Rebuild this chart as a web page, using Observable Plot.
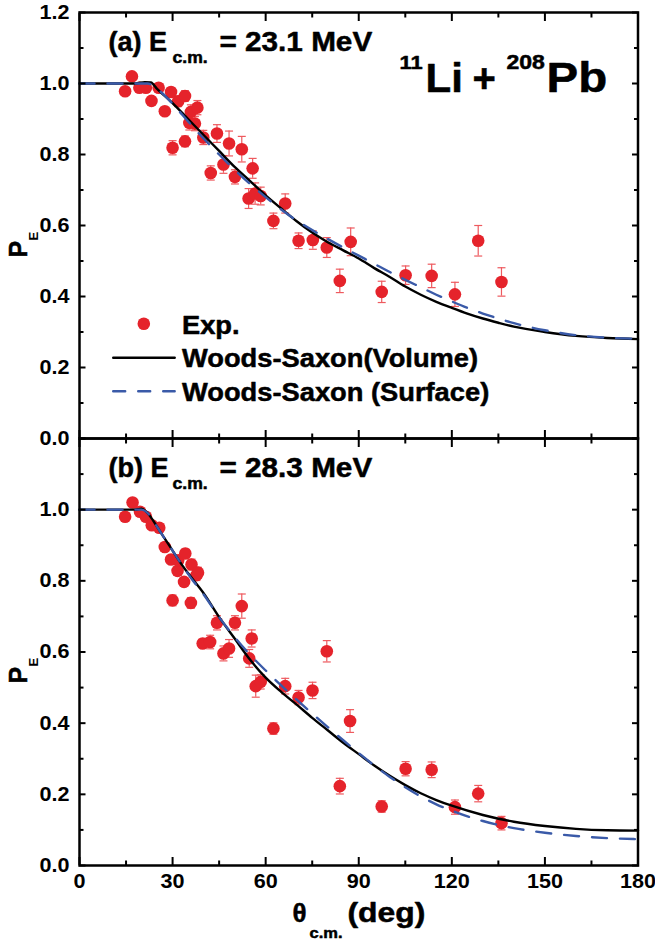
<!DOCTYPE html>
<html><head><meta charset="utf-8">
<script src="https://cdn.jsdelivr.net/npm/d3@7"></script>
<script src="https://cdn.jsdelivr.net/npm/@observablehq/plot@0.6"></script>
<style>
html,body{margin:0;padding:0;background:#fff;}
#chart{width:655px;height:941px;}
#chart svg{display:block;overflow:visible;background:transparent;}
</style></head><body><div id="chart"></div>
<script>
// ---------- data ----------
const xMajorTicks = [0, 30, 60, 90, 120, 150, 180];
const xMinorTicks = [15, 45, 75, 105, 135, 165];
const yMajorTicks = [0, 0.2, 0.4, 0.6, 0.8, 1.0, 1.2];
const yMinorTicks = [0.1, 0.3, 0.5, 0.7, 0.9, 1.1];
const yLabelsTop = [0, 0.2, 0.4, 0.6, 0.8, 1.0, 1.2];
const yLabelsBottom = [0, 0.2, 0.4, 0.6, 0.8, 1.0];

// (a) E = 23.1 MeV experiment
const topTheta = [14.7,16.9,19.3,21.4,23.2,25.5,27.5,29.5,30.0,31.8,34.0,34.0,35.4,35.9,37.2,38.0,39.9,42.3,44.3,46.4,48.2,50.1,52.3,54.5,55.8,56.6,58.4,62.5,66.3,70.6,75.2,79.7,83.9,87.4,97.4,105.1,113.5,121.0,128.5,136.0];
const topPE = [0.978,1.020,0.988,0.988,0.951,0.988,0.922,0.976,0.819,0.950,0.965,0.837,0.889,0.920,0.887,0.932,0.848,0.748,0.859,0.772,0.831,0.737,0.815,0.676,0.761,0.690,0.683,0.613,0.662,0.557,0.559,0.538,0.444,0.554,0.413,0.460,0.458,0.406,0.557,0.441];
const topErr = [0.008,0.008,0.008,0.008,0.01,0.01,0.01,0.012,0.02,0.015,0.015,0.015,0.02,0.02,0.02,0.02,0.02,0.02,0.025,0.025,0.035,0.02,0.036,0.028,0.028,0.03,0.025,0.022,0.027,0.022,0.026,0.028,0.033,0.039,0.030,0.026,0.033,0.034,0.043,0.040];
// (a) curves
const topVolTheta = [0,10,18,21,23,25,30,35,40,45,50,55,60,65,70,75,80,85,90,95,100,105,110,115,120,125,130,135,140,150,160,170,180];
const topVolPE = [1,1,1,1.004,1.003,0.985,0.945,0.90,0.855,0.81,0.765,0.725,0.685,0.648,0.612,0.58,0.553,0.53,0.507,0.48,0.455,0.428,0.405,0.385,0.368,0.352,0.338,0.326,0.315,0.300,0.289,0.283,0.28];
const topSurfTheta = [0,10,20,22,25,30,35,40,45,50,55,60,65,70,75,80,85,90,95,100,105,110,115,120,125,130,135,140,145,150,160,170,180];
const topSurfPE = [1,1,1,1,0.985,0.943,0.893,0.845,0.80,0.757,0.717,0.680,0.645,0.614,0.587,0.562,0.538,0.515,0.492,0.469,0.447,0.426,0.405,0.386,0.368,0.352,0.338,0.325,0.314,0.305,0.291,0.284,0.281];

// (b) E = 28.3 MeV experiment
const botTheta = [14.7,17.1,19.5,21.4,23.3,25.7,27.5,29.5,30.0,31.6,31.8,33.7,34.1,35.9,36.1,37.7,38.2,39.7,42.1,44.3,46.4,48.2,50.1,52.3,54.7,55.5,56.8,58.4,62.5,66.3,70.6,75.1,79.7,83.9,87.2,97.4,105.1,113.5,121.0,128.5,136.0];
const botPE = [0.980,1.020,0.994,0.980,0.956,0.949,0.895,0.860,0.745,0.828,0.858,0.797,0.877,0.738,0.846,0.816,0.823,0.624,0.628,0.682,0.596,0.610,0.682,0.729,0.582,0.638,0.504,0.516,0.385,0.504,0.472,0.492,0.602,0.223,0.406,0.166,0.272,0.269,0.164,0.202,0.119];
const botErr = [0.008,0.008,0.008,0.008,0.008,0.008,0.01,0.01,0.015,0.012,0.012,0.012,0.012,0.015,0.015,0.015,0.015,0.012,0.019,0.02,0.021,0.025,0.02,0.034,0.025,0.024,0.031,0.02,0.016,0.022,0.02,0.023,0.03,0.022,0.032,0.016,0.02,0.022,0.02,0.023,0.019];
// (b) curves
const botVolTheta = [0,10,18,20,22,25,27,30,33,36,40,45,50,55,60,65,70,75,80,85,90,95,100,105,110,115,120,130,140,150,160,170,180];
const botVolPE = [1,1,1,1.003,0.99,0.952,0.925,0.885,0.845,0.81,0.765,0.698,0.638,0.578,0.528,0.488,0.452,0.415,0.38,0.345,0.313,0.281,0.252,0.226,0.203,0.184,0.168,0.142,0.123,0.111,0.103,0.099,0.098];
const botSurfTheta = [0,10,20,22,25,27,30,33,36,40,45,50,55,60,65,70,75,80,85,90,95,100,105,110,115,120,130,140,150,160,170,180];
const botSurfPE = [1,1,1,0.99,0.952,0.925,0.885,0.845,0.807,0.762,0.698,0.642,0.592,0.548,0.506,0.466,0.427,0.389,0.352,0.316,0.281,0.249,0.220,0.194,0.172,0.154,0.125,0.105,0.092,0.083,0.077,0.074];

// texts
const panelA = ["(a) E", "c.m.", "= 23.1 MeV"];
const panelB = ["(b) E", "c.m.", "= 28.3 MeV"];
const reaction = ["11", "Li", "+", "208", "Pb"];
const legendLabels = ["Exp.", "Woods-Saxon(Volume)", "Woods-Saxon (Surface)"];
const yTitle = ["P", "E"];
const xTitle = ["θ", "c.m.", "(deg)"];

// ---------- style ----------
const FONT = "'Liberation Sans', Arial, Helvetica, sans-serif";
const RED = "#e5232b", ERR = "#ee5a5f", BLUE = "#3a5aa8";
const W = 655, ML = 79, MR = 17.5;

const pts = (th, pe, er) => th.map((t, i) => ({theta: t, pe: pe[i], err: er[i]}));
const crv = (th, pe) => th.map((t, i) => ({theta: t, pe: pe[i]}));
const capSym = {draw(ctx) { ctx.moveTo(-4, 0); ctx.lineTo(4, 0); }};
const lineShape = {draw(ctx, l) { ctx.moveTo(0, 0); ctx.lineTo(0, -l); }};

// horizontal stretch factors for texts (by content)
const stretchMap = new Map([
  [panelA[0], 1.0], [panelB[0], 1.0], ["c.m.", 1.1], [panelA[2], 1.1], [panelB[2], 1.1],
  [reaction[0], 1.15], [reaction[1], 1.05], [reaction[2], 1.0], [reaction[3], 1.15], [reaction[4], 1.13],
  [legendLabels[0], 1.05], [legendLabels[1], 1.05], [legendLabels[2], 1.05],
  [xTitle[2], 1.18]
]);

function txt(s, dx, dy, size, frameAnchor = "top-left") {
  return Plot.text([s], {text: d => d, frameAnchor, dx, dy,
    textAnchor: "start", lineAnchor: "bottom", fontSize: size, fontWeight: "bold",
    fill: "black", stroke: "black", strokeWidth: 0.5});
}

function tickMarks() {
  const o = {label: null, tickFormat: () => "", strokeWidth: 2, stroke: "black"};
  return [
    Plot.axisX(xMajorTicks, {...o, anchor: "bottom", tickSize: -8}),
    Plot.axisX(xMinorTicks, {...o, anchor: "bottom", tickSize: -4.5}),
    Plot.axisX(xMajorTicks, {...o, anchor: "top", tickSize: -8}),
    Plot.axisX(xMinorTicks, {...o, anchor: "top", tickSize: -4.5}),
    Plot.axisY(yMajorTicks, {...o, anchor: "left", tickSize: -6.5}),
    Plot.axisY(yMinorTicks, {...o, anchor: "left", tickSize: -4.5}),
    Plot.axisY(yMajorTicks, {...o, anchor: "right", tickSize: -6.5}),
    Plot.axisY(yMinorTicks, {...o, anchor: "right", tickSize: -4.5})
  ];
}

function expMarks(data) {
  return [
    Plot.ruleX(data, {x: "theta", y1: d => d.pe - d.err, y2: d => d.pe + d.err, stroke: ERR, strokeWidth: 1.2}),
    Plot.dot(data, {x: "theta", y: d => d.pe + d.err, symbol: capSym, stroke: ERR, strokeWidth: 1.2, fill: "none"}),
    Plot.dot(data, {x: "theta", y: d => d.pe - d.err, symbol: capSym, stroke: ERR, strokeWidth: 1.2, fill: "none"}),
    Plot.dot(data, {x: "theta", y: "pe", r: 6.3, fill: RED, stroke: null})
  ];
}

function curveMarks(vol, surf) {
  return [
    Plot.line(vol, {x: "theta", y: "pe", stroke: "black", strokeWidth: 2.4, curve: "monotone-x"}),
    Plot.line(surf, {x: "theta", y: "pe", stroke: BLUE, strokeWidth: 2.4, strokeDasharray: "15,13", curve: "monotone-x"})
  ];
}

function yTitleMarks() {
  return [
    Plot.text([yTitle[0]], {text: d => d, frameAnchor: "top-left", dx: 26.5 - ML, dy: 245, rotate: -90,
      textAnchor: "start", lineAnchor: "bottom", fontSize: 25, fontWeight: "bold", fill: "black",
      stroke: "black", strokeWidth: 0.5}),
    Plot.text([yTitle[1]], {text: d => d, frameAnchor: "top-left", dx: 37.5 - ML, dy: 228, rotate: -90,
      textAnchor: "start", lineAnchor: "bottom", fontSize: 13, fontWeight: "bold", fill: "black"})
  ];
}

function panelHeader(p) {
  return [
    txt(p[0], 108 - ML, 38.5, 27),
    txt(p[1], 172 - ML, 50, 16),
    txt(p[2], 219 - ML, 38.5, 27)
  ];
}

function stretchText(svg) {
  svg.querySelectorAll("text").forEach(t => {
    const ax = t.closest('g[aria-label$="tick label"]');
    const sx = ax ? 1.08 : stretchMap.get(t.textContent);
    if (!sx || sx === 1) return;
    const tr = t.getAttribute("transform");
    if (tr) t.setAttribute("transform", tr + ` scale(${sx},1)`);
    else {
      const x = +t.getAttribute("x") || 0, y = +t.getAttribute("y") || 0;
      t.removeAttribute("x"); t.removeAttribute("y");
      t.setAttribute("transform", `translate(${x},${y}) scale(${sx},1)`);
    }
  });
}

const common = {
  width: W, marginLeft: ML, marginRight: MR,
  x: {domain: [0, 180], axis: null},
  y: {domain: [0, 1.2], axis: null},
  style: {fontFamily: FONT, background: "transparent", overflow: "visible"}
};

// ---------- top panel ----------
const topPlot = Plot.plot({
  ...common, height: 438, marginTop: 12, marginBottom: 0,
  marks: [
    ...expMarks(pts(topTheta, topPE, topErr)),
    ...curveMarks(crv(topVolTheta, topVolPE), crv(topSurfTheta, topSurfPE)),
    ...tickMarks(),
    Plot.axisY(yLabelsTop, {anchor: "left", tickSize: 0, tickPadding: 10, tickFormat: d => d.toFixed(1),
      fontSize: 20, fontWeight: "bold", label: null}),
    Plot.frame({stroke: "black", strokeWidth: 2.5}),
    ...panelHeader(panelA),
    txt(reaction[0], 399 - ML, 56.5, 19),
    txt(reaction[1], 425 - ML, 79.5, 40),
    txt(reaction[2], 472 - ML, 79.5, 40),
    txt(reaction[3], 506 - ML, 56.5, 20),
    txt(reaction[4], 546 - ML, 79.5, 42),
    // legend
    Plot.dot([0], {frameAnchor: "top-left", dx: 143.3 - ML, dy: 323.3 - 12, r: 6.3, fill: RED}),
    Plot.vector([0], {frameAnchor: "top-left", dx: 112.7 - ML, dy: 357.3 - 12, length: 61.5, rotate: 90,
      anchor: "start", shape: lineShape, stroke: "black", strokeWidth: 2.4}),
    Plot.vector([0], {frameAnchor: "top-left", dx: 112.7 - ML, dy: 390.7 - 12, length: 61.5, rotate: 90,
      anchor: "start", shape: lineShape, stroke: BLUE, strokeWidth: 2.4, strokeDasharray: "12,13"}),
    txt(legendLabels[0], 181.5 - ML, 333 - 12, 26),
    txt(legendLabels[1], 181.5 - ML, 366.7 - 12, 26),
    txt(legendLabels[2], 181.5 - ML, 400.5 - 12, 26),
    ...yTitleMarks()
  ]
});

// ---------- bottom panel ----------
const bottomPlot = Plot.plot({
  ...common, height: 503, marginTop: 0, marginBottom: 76,
  marks: [
    ...expMarks(pts(botTheta, botPE, botErr)),
    ...curveMarks(crv(botVolTheta, botVolPE), crv(botSurfTheta, botSurfPE)),
    ...tickMarks(),
    Plot.axisY(yLabelsBottom, {anchor: "left", tickSize: 0, tickPadding: 10, tickFormat: d => d.toFixed(1),
      fontSize: 20, fontWeight: "bold", label: null}),
    Plot.axisX(xMajorTicks, {anchor: "bottom", tickSize: 0, tickPadding: 8, tickFormat: d => String(d),
      fontSize: 20, fontWeight: "bold", label: null}),
    Plot.frame({stroke: "black", strokeWidth: 2.5}),
    ...panelHeader(panelB),
    ...yTitleMarks(),
    txt(xTitle[0], 292 - ML, 56.5, 26, "bottom-left"),
    txt(xTitle[1], 309 - ML, 72, 15, "bottom-left"),
    txt(xTitle[2], 347 - ML, 56.5, 27, "bottom-left")
  ]
});

document.getElementById("chart").append(topPlot, bottomPlot);
stretchText(topPlot);
stretchText(bottomPlot);
</script></body></html>
